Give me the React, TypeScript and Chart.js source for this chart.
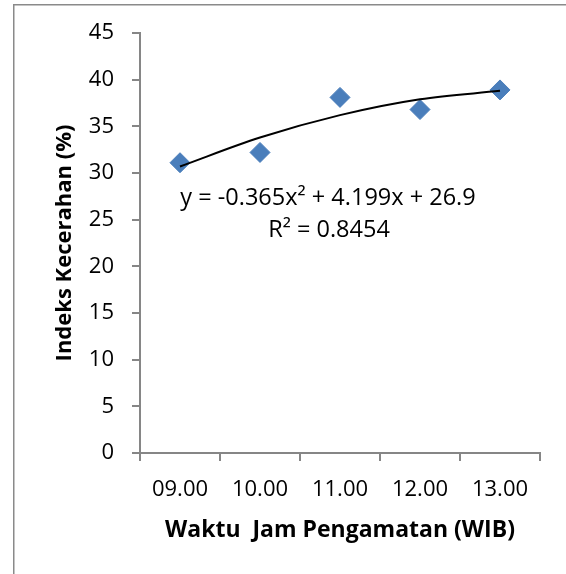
import { useEffect, useRef } from 'react';
import { Chart, registerables } from 'chart.js';

Chart.register(...registerables);

const CATEGORIES = ['09.00', '10.00', '11.00', '12.00', '13.00'];
const INDEKS = [31.1, 32.2, 38.1, 36.8, 38.9];
const TREND = [30.7, 33.8, 36.2, 37.9, 38.8];
const Y_MIN = 0;
const Y_MAX = 45;
const Y_STEP = 5;
const EQUATION = 'y = -0.365x² + 4.199x + 26.9';
const R_SQUARED = 'R² = 0.8454';
const X_TITLE = 'Waktu  Jam Pengamatan (WIB)';
const Y_TITLE = 'Indeks Kecerahan (%)';

const FONT = '"Open Sans", sans-serif';
const AXIS_GRAY = '#868686';

const decorPlugin = {
  id: 'decor',
  beforeDraw(chart: any) {
    const { ctx, width, height } = chart;
    ctx.save();
    ctx.fillStyle = '#ffffff';
    ctx.fillRect(0, 0, width, height);
    ctx.strokeStyle = '#8a8a8a';
    ctx.lineWidth = 1.5;
    ctx.beginPath();
    ctx.moveTo(13.75, height);
    ctx.lineTo(13.75, 4.75);
    ctx.lineTo(width, 4.75);
    ctx.stroke();
    ctx.restore();
  },
  afterDatasetsDraw(chart: any) {
    const { ctx } = chart;
    ctx.save();
    ctx.fillStyle = '#000000';
    ctx.font = `23.5px ${FONT}`;
    ctx.textAlign = 'center';
    ctx.textBaseline = 'alphabetic';
    ctx.fillText(EQUATION, 328, 205);
    ctx.fillText(R_SQUARED, 329, 237);
    ctx.restore();
  },
};

export default function App() {
  const ref = useRef<HTMLCanvasElement | null>(null);
  useEffect(() => {
    if (!ref.current) return;
    const chart = new Chart(ref.current, {
      type: 'line',
      data: {
        labels: CATEGORIES,
        datasets: [
          {
            label: 'Trend',
            data: TREND,
            borderColor: '#000000',
            borderWidth: 2,
            pointRadius: 0,
            fill: false,
            cubicInterpolationMode: 'monotone',
          },
          {
            label: 'Indeks Kecerahan',
            data: INDEKS,
            showLine: false,
            pointStyle: 'rectRot',
            pointRadius: 10,
            pointBackgroundColor: '#4A7EBB',
            pointBorderColor: '#4A7EBB',
            pointBorderWidth: 1,
            borderColor: '#4A7EBB',
            backgroundColor: '#4A7EBB',
          },
        ],
      },
      options: {
        responsive: false,
        animation: false,
        events: [],
        layout: { padding: { left: 14, top: 33, right: 26, bottom: 0 } },
        plugins: {
          legend: { display: false },
          tooltip: { enabled: false },
          title: { display: false },
        },
        scales: {
          x: {
            type: 'category',
            offset: true,
            afterFit: (s: any) => {
              s.height = 121;
            },
            grid: {
              offset: true,
              drawOnChartArea: false,
              drawTicks: true,
              tickLength: 8,
              color: AXIS_GRAY,
              lineWidth: 2,
            },
            border: { display: true, color: AXIS_GRAY, width: 2 },
            ticks: {
              color: '#000000',
              font: { family: FONT, size: 22 },
              padding: 16,
              maxRotation: 0,
              autoSkip: false,
            },
            title: {
              display: true,
              text: X_TITLE,
              color: '#000000',
              font: { family: FONT, size: 23, weight: 'bold' },
              padding: { top: 0, bottom: 30 },
            },
          },
          y: {
            type: 'linear',
            min: Y_MIN,
            max: Y_MAX,
            afterFit: (s: any) => {
              s.width = 126;
            },
            grid: {
              drawOnChartArea: false,
              drawTicks: true,
              tickLength: 8,
              color: AXIS_GRAY,
              lineWidth: 2,
            },
            border: { display: true, color: AXIS_GRAY, width: 2 },
            ticks: {
              stepSize: Y_STEP,
              color: '#000000',
              font: { family: FONT, size: 22 },
              padding: 18,
            },
            title: {
              display: true,
              text: Y_TITLE,
              color: '#000000',
              font: { family: FONT, size: 22, weight: 'bold' },
              padding: { top: 38, bottom: 0 },
            },
          },
        },
      },
      plugins: [decorPlugin],
    } as any);
    return () => chart.destroy();
  }, []);
  return (
    <div style={{ position: 'absolute', left: 0, top: 0, width: 566, height: 574 }}>
      <canvas ref={ref} width={566} height={574} style={{ display: 'block' }} />
    </div>
  );
}
